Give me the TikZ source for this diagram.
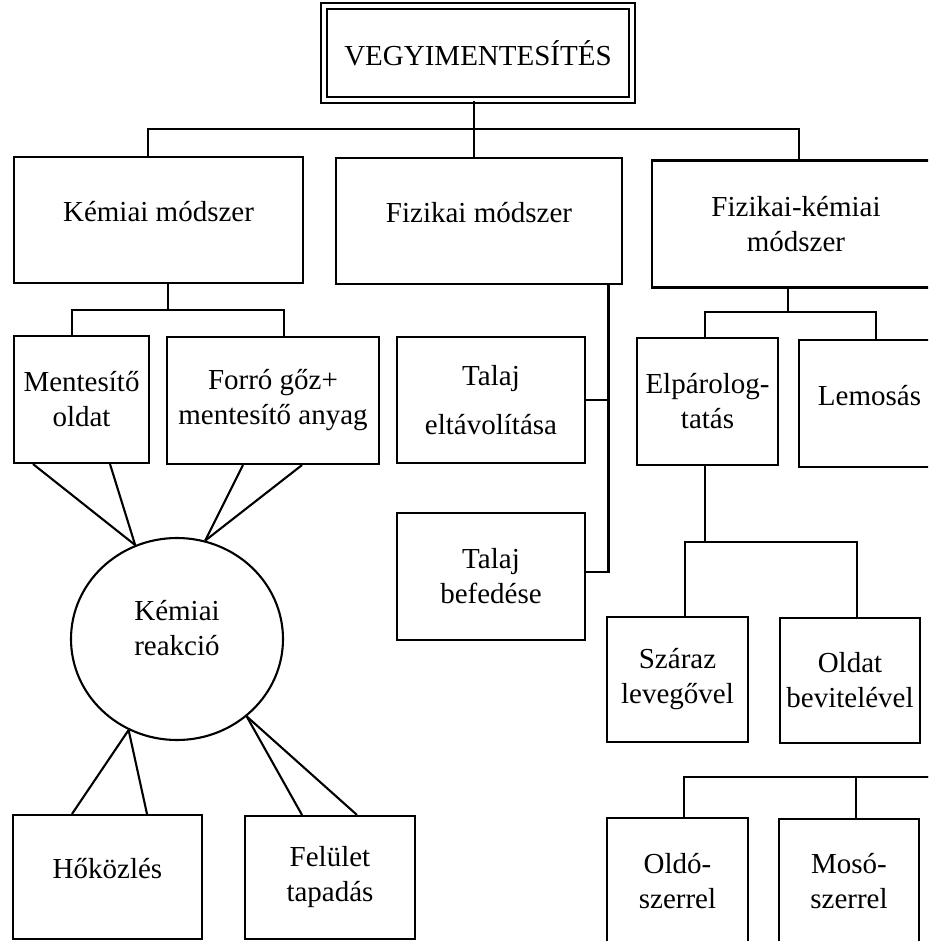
\documentclass[tikz,border=0pt]{standalone}
\usepackage{fontspec}
\setmainfont{Liberation Serif}
\usepackage{tikz}
\usetikzlibrary{positioning,shapes.geometric,calc}
\tikzset{
    block/.style={rectangle, draw, line width=2.1pt, inner sep=2pt, align=center, font=\fontsize{29}{35}\selectfont},
    flat/.style={text depth=17pt},
    titlebox/.style={block, double, double distance=4.2pt, line width=1.9pt},
    reaction/.style={ellipse, draw, line width=2.1pt, inner sep=0pt, minimum width=212pt, minimum height=202pt, align=center, font=\fontsize{29}{35}\selectfont, text depth=22pt},
    link/.style={line width=2.1pt}
}

\begin{document}
\begin{tikzpicture}[x=1pt, y=-1pt]
\useasboundingbox (0,0) rectangle (928,941);
\clip (0,0) rectangle (928,941);
% title and the three methods
\node[titlebox, minimum width=308pt, minimum height=94pt] (top) at (478,53) {VEGYIMENTESÍTÉS};
\node[block, flat, minimum width=289pt, minimum height=126pt] (kem) at (158.5,220) {Kémiai módszer};
\node[block, flat, minimum width=286pt, minimum height=126pt] (fiz) at (479,221) {Fizikai módszer};
\node[block, minimum width=288pt, minimum height=127pt] (fk) at (796,224) {Fizikai-kémiai\\módszer};
% second level
\node[block, minimum width=135pt, minimum height=127pt] (ment) at (81.5,399.5) {Mentesítő\\oldat};
\node[block, minimum width=212pt, minimum height=127pt] (forro) at (273,400.5) {Forró gőz+\\mentesítő anyag};
\node[block, minimum width=188pt, minimum height=126pt] (tal1) at (491,400) {Talaj\\[14pt]eltávolítása};
\node[block, minimum width=188pt, minimum height=127pt] (tal2) at (491,576.5) {Talaj\\befedése};
\node[block, minimum width=141pt, minimum height=127pt] (elp) at (707.5,401.5) {Elpárolog-\\tatás};
\node[block, flat, minimum width=141pt, minimum height=127pt] (lem) at (869.5,403.5) {Lemosás};
% reaction and its results
\node[reaction] (kr) at (177,639) {Kémiai\\reakció};
\node[block, flat, minimum width=189pt, minimum height=124pt] (hok) at (107.5,877) {Hőközlés};
\node[block, minimum width=170pt, minimum height=123pt] (fel) at (330,877.5) {Felület\\tapadás};
% evaporation / washing branches
\node[block, minimum width=141pt, minimum height=125pt] (szar) at (677.5,679.5) {Száraz\\levegővel};
\node[block, minimum width=140pt, minimum height=125pt] (oldat) at (850,680.5) {Oldat\\bevitelével};
\node[block, minimum width=141pt, minimum height=126pt] (oldo) at (677.5,881) {Oldó-\\szerrel};
\node[block, minimum width=140pt, minimum height=125pt] (moso) at (849,881.5) {Mosó-\\szerrel};

% bus junctions
\coordinate (busA) at (474,129);
\coordinate (busB) at (168,310);
\coordinate (busD) at (788,312);
\coordinate (busE) at (705,542);
\coordinate (busF) at (940,777);
\coordinate (trunkC) at (608.5,572);

\draw[link] (top.south -| busA) -- (fiz.north -| busA);
\draw[link] ([xshift=-10.5pt]kem.north) |- (busA) -| ([xshift=3pt]fk.north);
\draw[link] ([xshift=9.5pt]kem.south) -- (busB);
\draw[link] ([xshift=-9.5pt]ment.north) |- (busB) -| ([xshift=11pt]forro.north);
\draw[link] ([xshift=129.5pt]fiz.south) -- (trunkC) -- ([yshift=4.5pt]tal2.east);
\draw[link] (tal1.east) -- (tal1.east -| trunkC);
\draw[link] ([xshift=-8pt]fk.south) -- (busD);
\draw[link] ([xshift=-2.5pt]elp.north) |- (busD) -| ([xshift=6.5pt]lem.north);
\draw[link] ([xshift=-2.5pt]elp.south) -- (busE);
\draw[link] ([xshift=7.5pt]szar.north) |- (busE) -| ([xshift=7pt]oldat.north);
\draw[link] ([xshift=6.5pt]oldo.north) |- (busF);
\draw[link] ([xshift=7pt]moso.north) |- (busF);
% lines to and from the reaction
\draw[link] ([xshift=-48.5pt]ment.south) -- (kr.114);
\draw[link] ([xshift=28.5pt]ment.south) -- (kr.114);
\draw[link] ([xshift=-30pt]forro.south) -- (kr.74);
\draw[link] ([xshift=29pt]forro.south) -- (kr.74);
\draw[link] (kr.242) -- ([xshift=-35.5pt]hok.north);
\draw[link] (kr.242) -- ([xshift=39.5pt]hok.north);
\draw[link] (kr.312) -- ([xshift=-28pt]fel.north);
\draw[link] (kr.312) -- ([xshift=27pt]fel.north);
\end{tikzpicture}
\end{document}
